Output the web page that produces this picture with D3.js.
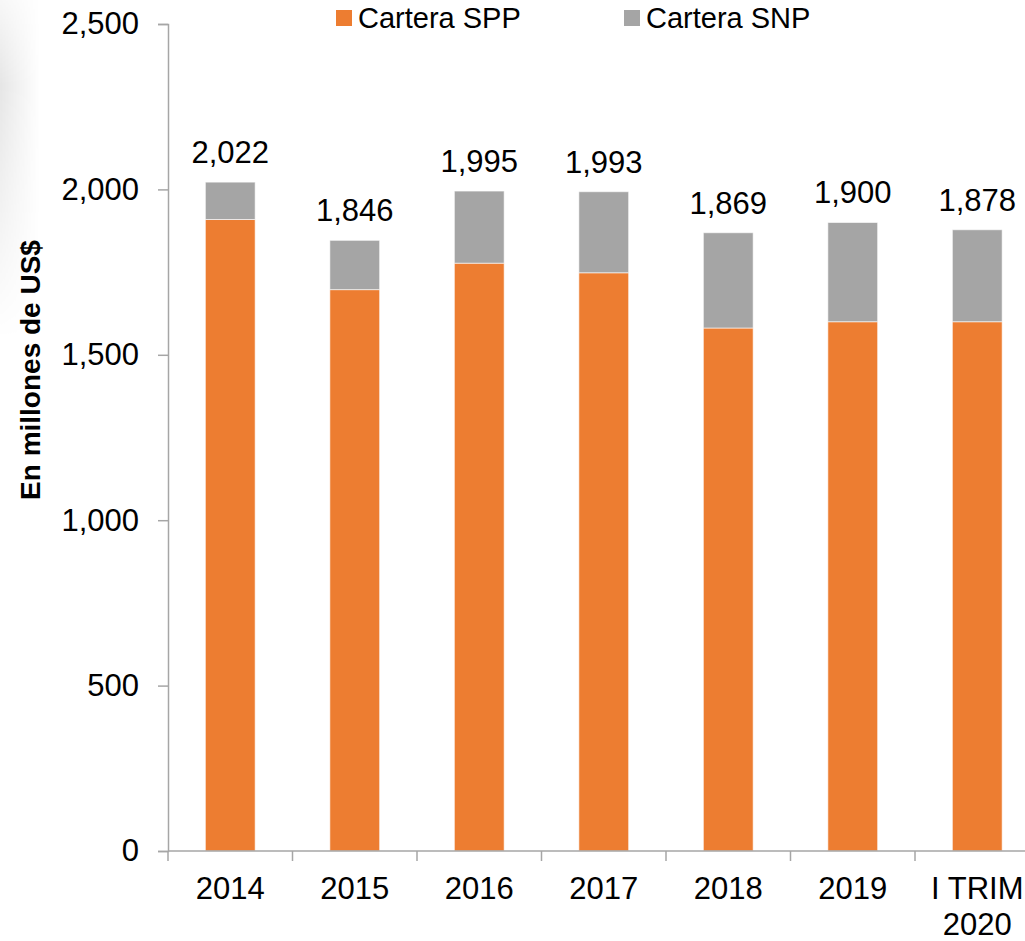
<!DOCTYPE html>
<html>
<head>
<meta charset="utf-8">
<script src="https://cdn.jsdelivr.net/npm/d3@7"></script>
<style>
  body { margin: 0; background: #fff; }
  svg { display: block; font-family: "Liberation Sans", Arial, sans-serif; }
</style>
</head>
<body>
<svg id="chart" width="1025" height="941"></svg>
<script>
// data
let categories = ["2014", "2015", "2016", "2017", "2018", "2019", "I TRIM\n2020"];
let spp = [1909, 1697, 1777, 1748, 1581, 1600, 1600];
let totals = [2022, 1846, 1995, 1993, 1869, 1900, 1878];
let snp = totals.map(function(t, i) { return t - spp[i]; });
let seriesNames = ["Cartera SPP", "Cartera SNP"];
let yTicks = [0, 500, 1000, 1500, 2000, 2500];

let colors = ["#ED7D31", "#A5A5A5"];
let axisColor = "#A6A6A6";

let chart = d3.select("#chart");

// faint shadow on the left edge
let defs = chart.append("defs");
let grad = defs.append("linearGradient").attr("id", "shade").attr("x1", 0).attr("x2", 1);
grad.append("stop").attr("offset", "0%").attr("stop-color", "#000").attr("stop-opacity", 0.10);
grad.append("stop").attr("offset", "100%").attr("stop-color", "#000").attr("stop-opacity", 0);
let vgrad = defs.append("linearGradient").attr("id", "vfade").attr("x1", 0).attr("x2", 0).attr("y1", 0).attr("y2", 1);
vgrad.append("stop").attr("offset", "0%").attr("stop-color", "#fff").attr("stop-opacity", 0.3);
vgrad.append("stop").attr("offset", "25%").attr("stop-color", "#fff").attr("stop-opacity", 1);
vgrad.append("stop").attr("offset", "100%").attr("stop-color", "#fff").attr("stop-opacity", 0);
let mask = defs.append("mask").attr("id", "shadeMask");
mask.append("rect").attr("x", 0).attr("y", 0).attr("width", 40).attr("height", 340).attr("fill", "url(#vfade)");
chart.append("rect")
    .attr("x", 0).attr("y", 0).attr("width", 40).attr("height", 340)
    .attr("fill", "url(#shade)")
    .attr("mask", "url(#shadeMask)");

// scales
let x = d3.scaleBand()
    .domain(categories)
    .range([168, 168 + 7 * 124.5])
    .paddingInner(0.6)
    .paddingOuter(0.3);

let y = d3.scaleLinear()
    .domain([0, 2500])
    .range([851, 24]);

// y axis
let yAxis = d3.axisLeft(y)
    .tickValues(yTicks)
    .tickSize(10)
    .tickPadding(19)
    .tickFormat(d3.format(","));
let yAxisGroup = chart.append("g")
    .attr("transform", "translate(168,0)")
    .call(yAxis);
yAxisGroup.select(".domain").attr("stroke", axisColor).attr("stroke-width", 1.5);
yAxisGroup.selectAll(".tick line").attr("stroke", axisColor).attr("stroke-width", 1.5);
yAxisGroup.selectAll(".tick text")
    .style("font-size", "31px")
    .style("font-family", "'Liberation Sans', Arial, sans-serif")
    .attr("fill", "#000");

// bars
let half = (x.step() - x.bandwidth()) / 2;
let stacks = [spp, snp];
stacks.forEach(function(vals, s) {
    chart.selectAll(".bar" + s)
        .data(categories)
        .enter()
        .append("rect")
        .attr("class", "bar" + s)
        .attr("x", function(d) { return x(d); })
        .attr("width", x.bandwidth())
        .attr("y", function(d, i) {
            let base = s === 0 ? 0 : spp[i];
            return y(base + vals[i]);
        })
        .attr("height", function(d, i) {
            let base = s === 0 ? 0 : spp[i];
            return y(base) - y(base + vals[i]);
        })
        .attr("fill", colors[s])
        .attr("stroke", "#fff")
        .attr("stroke-opacity", 0.6)
        .attr("stroke-width", 1);
});

// x axis line and ticks at the band boundaries
chart.append("line")
    .attr("x1", 168).attr("x2", x.range()[1])
    .attr("y1", y(0)).attr("y2", y(0))
    .attr("stroke", axisColor).attr("stroke-width", 1.5);
let bounds = categories.map(function(c) { return x(c) - half; });
bounds.push(x.range()[1]);
chart.selectAll(".xtick")
    .data(bounds)
    .enter()
    .append("line")
    .attr("x1", function(d) { return d; })
    .attr("x2", function(d) { return d; })
    .attr("y1", y(0))
    .attr("y2", y(0) + 10)
    .attr("stroke", axisColor).attr("stroke-width", 1.5);

// x labels
let xLabels = chart.selectAll(".xlabel")
    .data(categories)
    .enter()
    .append("text")
    .attr("class", "xlabel")
    .attr("text-anchor", "middle")
    .style("font-size", "31px")
    .attr("fill", "#000");
xLabels.each(function(d) {
    let lines = d.split("\n");
    let t = d3.select(this);
    lines.forEach(function(line, k) {
        t.append("tspan")
            .attr("x", x(d) + x.bandwidth() / 2)
            .attr("y", 899 + k * 36)
            .text(line);
    });
});

// total labels
chart.selectAll(".total")
    .data(categories)
    .enter()
    .append("text")
    .attr("class", "total")
    .attr("x", function(d) { return x(d) + x.bandwidth() / 2; })
    .attr("y", function(d, i) { return y(totals[i]) - 19; })
    .attr("text-anchor", "middle")
    .style("font-size", "31px")
    .attr("fill", "#000")
    .text(function(d, i) { return d3.format(",")(totals[i]); });

// y title
chart.append("text")
    .text("En millones de US$")
    .attr("transform", "translate(40,370) rotate(-90)")
    .attr("text-anchor", "middle")
    .style("font-size", "28px")
    .style("font-weight", "bold")
    .attr("fill", "#000");

// legend
let legendX = [336, 624];
chart.selectAll(".lgbox")
    .data(seriesNames)
    .enter()
    .append("rect")
    .attr("x", function(d, i) { return legendX[i]; })
    .attr("y", 10)
    .attr("width", 16)
    .attr("height", 16)
    .attr("fill", function(d, i) { return colors[i]; });
chart.selectAll(".lgtext")
    .data(seriesNames)
    .enter()
    .append("text")
    .attr("x", function(d, i) { return legendX[i] + 22; })
    .attr("y", 28)
    .style("font-size", "29px")
    .attr("fill", "#000")
    .text(function(d) { return d; });
</script>
</body>
</html>
